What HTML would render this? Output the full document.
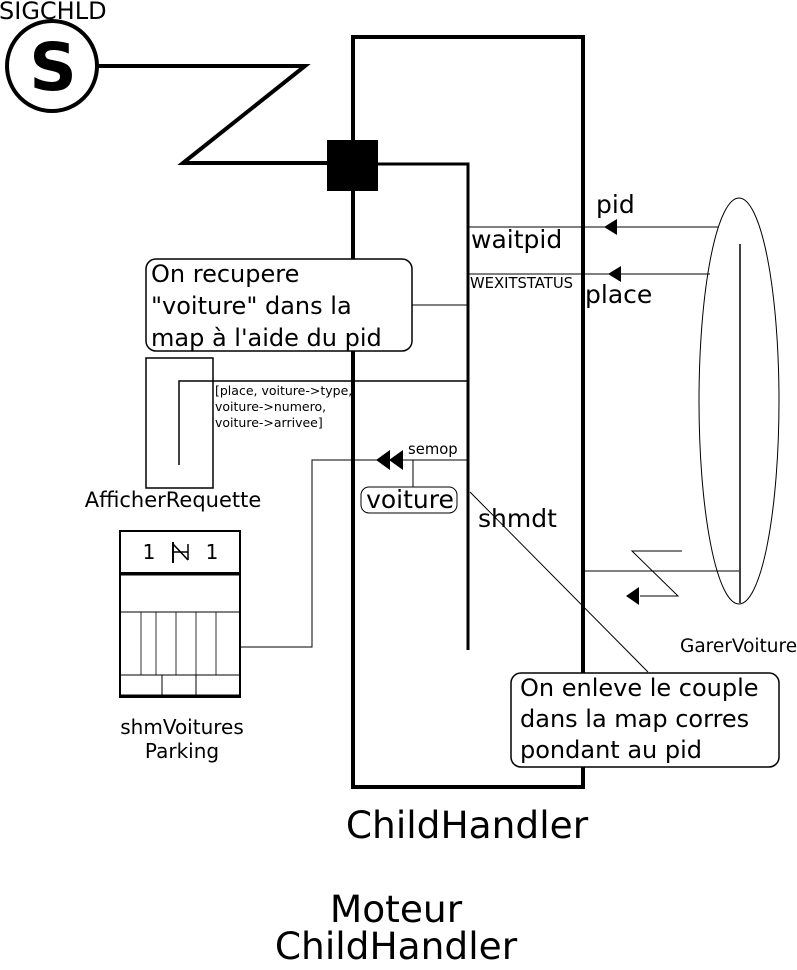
<!DOCTYPE html>
<html><head><meta charset="utf-8"><style>
html,body{margin:0;padding:0;background:#fff}
svg{display:block}
text{font-family:"DejaVu Sans","Liberation Sans",sans-serif;fill:#000}
</style></head><body>
<svg width="797" height="970" viewBox="0 0 797 970" xmlns="http://www.w3.org/2000/svg">
<rect x="353" y="37" width="230" height="750" fill="none" stroke="#000" stroke-width="4"/>
<polyline points="378,164 468,164 468,650" fill="none" stroke="#000" stroke-width="3"/>
<text x="-1" y="19" font-size="24">SIGCHLD</text>
<circle cx="52" cy="66" r="45" fill="#fff" stroke="#000" stroke-width="4"/>
<text x="53" y="90" font-size="66" font-weight="bold" text-anchor="middle">S</text>
<polyline points="97,66 305,66 183,163 328,163" fill="none" stroke="#000" stroke-width="4"/>
<rect x="327" y="140" width="51" height="51" fill="#000"/>
<line x1="468" y1="227" x2="718" y2="227" stroke="#000" stroke-width="1"/>
<polygon points="604,227 617,219 617,235" fill="#000"/>
<text x="596" y="213" font-size="25">pid</text>
<text x="471" y="248" font-size="25">waitpid</text>
<line x1="468" y1="274" x2="710" y2="274" stroke="#000" stroke-width="1"/>
<polygon points="608,274 621,266 621,282" fill="#000"/>
<text x="470" y="288" font-size="14.8">WEXITSTATUS</text>
<text x="585" y="303" font-size="25">place</text>
<ellipse cx="739" cy="401" rx="40" ry="203" fill="none" stroke="#000" stroke-width="1"/>
<line x1="740" y1="244" x2="740" y2="603" stroke="#000" stroke-width="1.5"/>
<line x1="583" y1="571" x2="739" y2="571" stroke="#000" stroke-width="1"/>
<polyline points="682,551 632,551 678,596 640,596" fill="none" stroke="#000" stroke-width="1"/>
<polygon points="626,596 639,587 639,605" fill="#000"/>
<text x="680" y="652" font-size="18.5">GarerVoiture</text>
<rect x="146" y="259" width="266" height="92" rx="10" fill="#fff" stroke="#000" stroke-width="1.5"/>
<text x="151" y="282" font-size="24">On recupere</text>
<text x="151" y="314" font-size="24">"voiture" dans la</text>
<text x="151" y="346" font-size="24">map à l'aide du pid</text>
<line x1="412" y1="305" x2="468" y2="305" stroke="#000" stroke-width="1"/>
<rect x="146" y="358" width="67" height="130" fill="none" stroke="#000" stroke-width="1.5"/>
<polyline points="179,465 179,381 468,381" fill="none" stroke="#000" stroke-width="1.5"/>
<text x="215" y="395" font-size="12.5">[place, voiture-&gt;type,</text>
<text x="215" y="411" font-size="12.5">voiture-&gt;numero,</text>
<text x="215" y="427" font-size="12.5">voiture-&gt;arrivee]</text>
<text x="173" y="507" font-size="21" text-anchor="middle">AfficherRequette</text>
<polyline points="468,460 312,460 312,647 240,647" fill="none" stroke="#000" stroke-width="1"/>
<polygon points="376,460 390,450 390,470" fill="#000"/>
<polygon points="389,460 403,450 403,470" fill="#000"/>
<text x="408" y="454" font-size="14.8">semop</text>
<line x1="413" y1="460" x2="413" y2="487" stroke="#000" stroke-width="1"/>
<rect x="361" y="487" width="96" height="26" rx="8" fill="#fff" stroke="#000" stroke-width="1"/>
<text x="410" y="508" font-size="25" text-anchor="middle">voiture</text>
<text x="478" y="527" font-size="25">shmdt</text>
<line x1="470" y1="492" x2="648" y2="672" stroke="#000" stroke-width="1"/>
<rect x="511" y="673" width="268" height="94" rx="10" fill="#fff" stroke="#000" stroke-width="1.5"/>
<text x="520" y="696" font-size="24">On enleve le couple</text>
<text x="520" y="727" font-size="24">dans la map corres</text>
<text x="520" y="758" font-size="24">pondant au pid</text>
<rect x="120" y="531" width="120" height="42" fill="none" stroke="#000" stroke-width="2"/>
<text x="149" y="559" font-size="20" text-anchor="middle">1</text>
<text x="212" y="559" font-size="20" text-anchor="middle">1</text>
<line x1="173" y1="542" x2="173" y2="563" stroke="#000" stroke-width="2"/>
<line x1="188" y1="544" x2="188" y2="560" stroke="#000" stroke-width="1.5"/>
<line x1="173" y1="544" x2="188" y2="560" stroke="#000" stroke-width="1.5"/>
<line x1="173" y1="552" x2="188" y2="552" stroke="#000" stroke-width="1.5"/>
<rect x="120" y="573" width="120" height="124" fill="none" stroke="#000" stroke-width="2"/>
<line x1="120" y1="574" x2="240" y2="574" stroke="#000" stroke-width="3"/>
<line x1="120" y1="612" x2="240" y2="612" stroke="#000" stroke-width="1"/>
<line x1="120" y1="675" x2="240" y2="675" stroke="#000" stroke-width="1"/>
<line x1="141" y1="612" x2="141" y2="675" stroke="#000" stroke-width="0.8"/>
<line x1="156" y1="612" x2="156" y2="675" stroke="#000" stroke-width="0.8"/>
<line x1="176" y1="612" x2="176" y2="675" stroke="#000" stroke-width="0.8"/>
<line x1="196" y1="612" x2="196" y2="675" stroke="#000" stroke-width="0.8"/>
<line x1="216" y1="612" x2="216" y2="675" stroke="#000" stroke-width="0.8"/>
<line x1="162" y1="675" x2="162" y2="697" stroke="#000" stroke-width="1"/>
<line x1="196" y1="675" x2="196" y2="697" stroke="#000" stroke-width="1"/>
<line x1="120" y1="696" x2="240" y2="696" stroke="#000" stroke-width="3"/>
<text x="182" y="734" font-size="20" text-anchor="middle">shmVoitures</text>
<text x="182" y="758" font-size="20" text-anchor="middle">Parking</text>
<text x="467" y="838" font-size="37.5" text-anchor="middle">ChildHandler</text>
<text x="396" y="922" font-size="37.5" text-anchor="middle">Moteur</text>
<text x="396" y="959" font-size="37.5" text-anchor="middle">ChildHandler</text>
</svg>
</body></html>
